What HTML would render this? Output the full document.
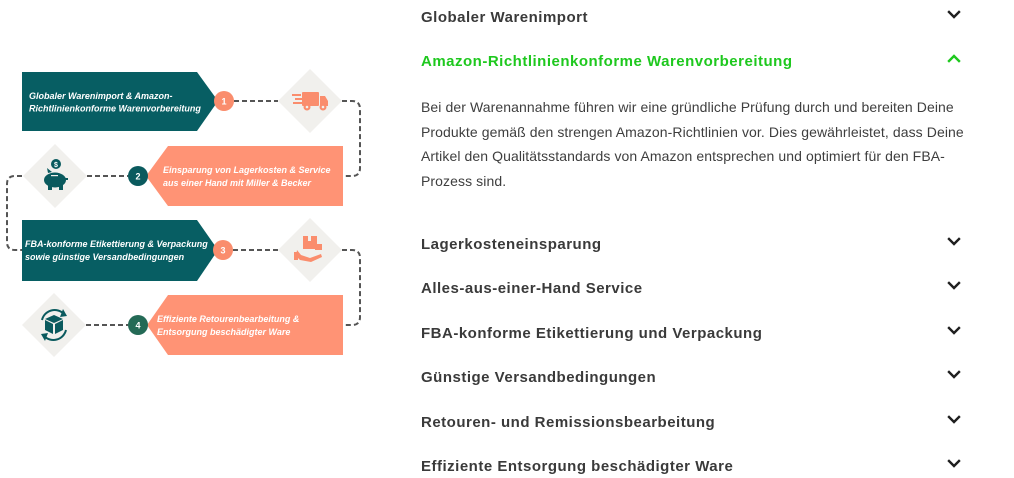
<!DOCTYPE html>
<html><head><meta charset="utf-8"><style>
html,body{margin:0;padding:0;background:#fff;}
body{width:1014px;height:478px;position:relative;overflow:hidden;font-family:"Liberation Sans",sans-serif;}
.t{position:absolute;left:421px;font-size:15px;font-weight:bold;color:#3a3a3a;white-space:nowrap;line-height:20px;letter-spacing:0.5px;}
.g{color:#1ec81e;}
.p{position:absolute;left:421px;top:95px;font-size:14px;color:#3e3e3e;line-height:24.7px;white-space:nowrap;letter-spacing:0.09px;}
svg{position:absolute;left:0;top:0;}
</style></head><body>
<svg width="1014" height="478" viewBox="0 0 1014 478" xmlns="http://www.w3.org/2000/svg">
 <g fill="none" stroke="#555" stroke-width="2" stroke-dasharray="5 3">
  <path d="M234 101 H278"/>
  <path d="M342 101 H352 Q360 101 360 109 V168 Q360 176 352 176 H343"/>
  <path d="M87 176 H128"/>
  <path d="M22 176 H15 Q7 176 7 184 V242 Q7 250 15 250 H22"/>
  <path d="M233 250 H278"/>
  <path d="M342 250 H352 Q360 250 360 258 V317 Q360 325 352 325 H343"/>
  <path d="M86 325 H128"/>
 </g>
 <g fill="#f1f0ed">
  <polygon points="310,69 342,101 310,133 278,101"/>
  <polygon points="55,144 87,176 55,208 23,176"/>
  <polygon points="310,218 342,250 310,282 278,250"/>
  <polygon points="54,293 86,325 54,357 22,325"/>
 </g>
 <polygon points="22,72 197,72 218,101 197,131 22,131" fill="#075e63"/>
 <polygon points="146,176 168,146 343,146 343,206 168,206" fill="#ff9375"/>
 <polygon points="22,220 197,220 218,250 197,281 22,281" fill="#075e63"/>
 <polygon points="147,325 168,295 343,295 343,355 168,355" fill="#ff9375"/>
 <circle cx="224" cy="101" r="10" fill="#fa8d6d"/>
 <circle cx="138" cy="176" r="10" fill="#0a5a5e"/>
 <circle cx="223" cy="250" r="10" fill="#fa8d6d"/>
 <circle cx="138" cy="325" r="10" fill="#246a56"/>
 <g fill="#fff" font-family="Liberation Sans, sans-serif" font-weight="bold" font-size="9" text-anchor="middle">
  <text x="224" y="104.5">1</text>
  <text x="138" y="179.5">2</text>
  <text x="223" y="253.5">3</text>
  <text x="138" y="328.5">4</text>
 </g>
 <g fill="#fff" font-family="Liberation Sans, sans-serif" font-weight="bold" font-style="italic" font-size="9">
  <text x="29" y="99">Globaler Warenimport &amp; Amazon-</text>
  <text x="29" y="111.5">Richtlinienkonforme Warenvorbereitung</text>
  <text x="163" y="173">Einsparung von Lagerkosten &amp; Service</text>
  <text x="163" y="186">aus einer Hand mit Miller &amp; Becker</text>
  <text x="25" y="247">FBA-konforme Etikettierung &amp; Verpackung</text>
  <text x="25" y="260">sowie günstige Versandbedingungen</text>
  <text x="157" y="322">Effiziente Retourenbearbeitung &amp;</text>
  <text x="157" y="335">Entsorgung beschädigter Ware</text>
 </g>
 <g fill="#fa8d6d">
  <rect x="292" y="94" width="9" height="2"/>
  <rect x="295" y="98" width="7" height="2"/>
  <rect x="293" y="102" width="9" height="2"/>
  <rect x="302" y="92" width="17" height="14" rx="1"/>
  <path d="M320 96 H325 L328 101 V106 H320 Z"/>
  <circle cx="307" cy="107" r="3.5"/>
  <circle cx="323" cy="107" r="3.5"/>
 </g>
 <circle cx="307" cy="107" r="1.3" fill="#f1f0ed"/>
 <circle cx="323" cy="107" r="1.3" fill="#f1f0ed"/>
 <g fill="#0a5a5e">
  <circle cx="56" cy="164" r="5"/>
  <ellipse cx="55" cy="180" rx="11" ry="7.5"/>
  <rect x="45" y="177" width="4" height="4"/>
  <path d="M48 173 L47 168 L52 172 Z"/>
  <rect x="48" y="185" width="4" height="5"/>
  <rect x="59" y="185" width="4" height="5"/>
  <rect x="65" y="178" width="3" height="2"/>
 </g>
 <text x="56" y="167" fill="#fff" font-family="Liberation Sans, sans-serif" font-size="7" font-weight="bold" text-anchor="middle">$</text>
 <rect x="51" y="175" width="7" height="1.2" fill="#f1f0ed"/>
 <g fill="#fa8d6d">
  <rect x="303" y="236" width="14" height="13"/>
  <rect x="315" y="244" width="7" height="6"/>
  <path d="M297 250 L301 255 L310 258 L321 254 L322 257 L311 262 L300 260 L296 256 Z"/>
  <rect x="294" y="252" width="4" height="8"/>
 </g>
 <rect x="308" y="236" width="3" height="5" fill="#f1f0ed"/>
 <g fill="none" stroke="#0a5a5e" stroke-width="2">
  <path d="M42 320 A13 13 0 0 1 64 314"/>
  <path d="M66 330 A13 13 0 0 1 44 336"/>
 </g>
 <g fill="#0a5a5e">
  <polygon points="63,309 67,316 60,317"/>
  <polygon points="45,341 41,334 48,333"/>
  <polygon points="54,315 63,319 54,323 45,319"/>
  <polygon points="45,320 53,324 53,334 45,330"/>
  <polygon points="55,324 63,320 63,330 55,334"/>
 </g>
 <g fill="none" stroke="#1f1f1f" stroke-width="2.4" stroke-linecap="square">
  <polyline points="949,12 954,17 959,12"/>
  <polyline points="949,239 954,244 959,239"/>
  <polyline points="949,283 954,288 959,283"/>
  <polyline points="949,328 954,333 959,328"/>
  <polyline points="949,372 954,377 959,372"/>
  <polyline points="949,417 954,422 959,417"/>
  <polyline points="949,461 954,466 959,461"/>
 </g>
 <polyline points="949,61 954,56 959,61" fill="none" stroke="#1ec81e" stroke-width="2.4" stroke-linecap="square"/>
</svg>
<div class="t" style="top:8px">Globaler Warenimport</div>
<div class="t g" style="top:52px">Amazon-Richtlinienkonforme Warenvorbereitung</div>
<div class="p">Bei der Warenannahme führen wir eine gründliche Prüfung durch und bereiten Deine<br>Produkte gemäß den strengen Amazon-Richtlinien vor. Dies gewährleistet, dass Deine<br>Artikel den Qualitätsstandards von Amazon entsprechen und optimiert für den FBA-<br>Prozess sind.</div>
<div class="t" style="top:235px">Lagerkosteneinsparung</div>
<div class="t" style="top:279px">Alles-aus-einer-Hand Service</div>
<div class="t" style="top:324px">FBA-konforme Etikettierung und Verpackung</div>
<div class="t" style="top:368px">Günstige Versandbedingungen</div>
<div class="t" style="top:413px">Retouren- und Remissionsbearbeitung</div>
<div class="t" style="top:457px">Effiziente Entsorgung beschädigter Ware</div>
</body></html>
